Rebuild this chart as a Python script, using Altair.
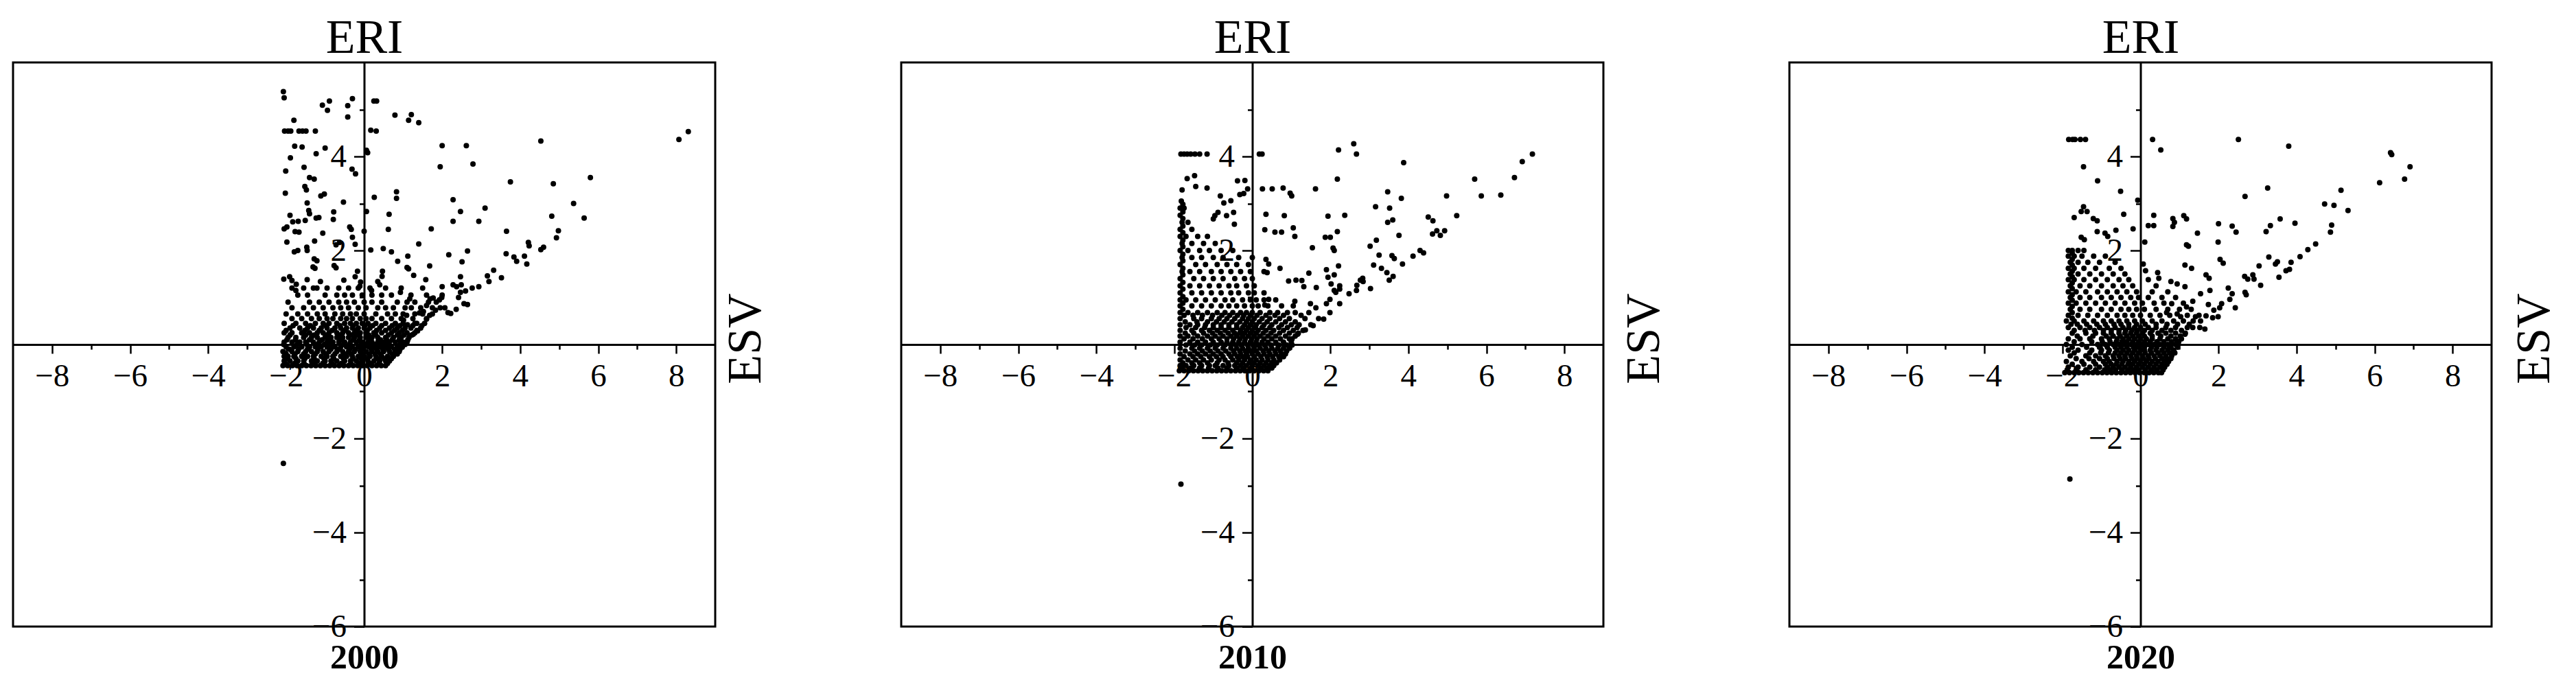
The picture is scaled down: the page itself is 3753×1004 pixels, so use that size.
import altair as alt
import pandas as pd

YEARS = ["2000", "2010", "2020"]
X_MAJOR = [-8, -6, -4, -2, 0, 2, 4, 6, 8]
X_MINOR = [-7, -5, -3, -1, 1, 3, 5, 7]
Y_MAJOR = [-6, -4, -2, 2, 4]
Y_MINOR = [-5, -3, -1, 1, 3, 5]
X_DOMAIN = [-9, 9]
Y_DOMAIN = [-6, 6]

# ---- 2000: scattered points (ERI, ESV)
S2000 = [
    (-2.07, 5.38), (-2.05, 5.25), (-1.07, 5.09), (-0.89, 5.18), (-0.94, 4.98), (-0.42, 5.08), (-0.30, 5.23), (-0.42, 4.84),
    (0.25, 5.18), (0.32, 5.18), (0.79, 4.88), (1.14, 4.77), (1.21, 4.89), (1.40, 4.72), (-1.80, 4.77),
    (-2.04, 4.54), (-1.95, 4.54), (-1.88, 4.54), (-1.67, 4.54), (-1.58, 4.54), (-1.49, 4.54), (-1.25, 4.54),
    (0.17, 4.56), (0.31, 4.54), (-1.78, 4.22), (-1.59, 4.20), (-1.23, 4.06), (-1.00, 4.18), (0.06, 4.13), (0.09, 4.08),
    (-1.89, 3.97), (-1.54, 3.77), (-2.01, 3.69), (-0.31, 3.73), (-0.22, 3.63), (-1.40, 3.55), (-1.28, 3.52),
    (2.00, 4.23), (2.62, 4.23), (4.53, 4.33), (8.07, 4.36), (8.31, 4.53), (1.95, 3.78), (2.79, 3.84), (3.75, 3.46),
    (4.85, 3.42), (5.80, 3.55),
    (-2.02, 3.22), (-1.52, 3.36), (-1.48, 3.29), (-1.46, 3.01), (-1.11, 3.16), (-1.02, 3.20), (0.26, 3.13), (0.83, 3.25),
    (0.83, 3.11), (2.28, 3.08),
    (-0.53, 3.03), (-0.78, 2.82), (-0.79, 2.66), (-1.42, 2.85), (-1.40, 2.78), (2.47, 2.83), (3.10, 2.90), (5.37, 3.00),
    (5.64, 2.69), (4.81, 2.73),
    (-1.90, 2.75), (-1.69, 2.62), (-1.83, 2.61), (-1.51, 2.64), (-1.23, 2.69), (-1.16, 2.70), (0.64, 2.77), (0.06, 2.83),
    (2.28, 2.62), (2.94, 2.62),
    (-2.05, 2.46), (-1.98, 2.50), (-1.77, 2.40), (-1.67, 2.39), (-1.06, 2.37), (-0.37, 2.50), (-0.33, 2.45), (0.00, 2.41),
    (0.62, 2.45), (1.72, 2.46), (3.65, 2.41), (4.98, 2.42), (4.93, 2.27),
    (-1.98, 2.18), (-1.27, 2.20), (-0.30, 2.28), (-0.23, 2.13), (-1.70, 2.00), (-1.79, 1.97), (-1.47, 2.07), (-1.46, 2.00),
    (-0.72, 2.12), (-0.63, 2.17),
    (0.17, 2.01), (0.49, 2.04), (0.70, 1.97), (1.40, 2.14), (2.17, 1.91), (2.65, 1.99), (3.64, 1.93), (3.84, 1.86),
    (3.91, 1.77), (4.11, 1.88), (4.21, 2.17), (4.23, 2.10), (4.17, 1.71), (4.53, 2.02), (4.60, 2.07),
    (1.12, 1.88), (0.86, 1.77), (2.51, 1.76), (-1.28, 1.82), (-1.21, 1.78), (-1.31, 1.65), (-1.26, 1.62), (-0.77, 1.68),
    (-0.72, 1.63), (1.10, 1.64), (1.14, 1.61), (1.68, 1.67),
    (3.32, 1.58), (3.52, 1.42), (3.16, 1.46), (3.20, 1.34), (2.94, 1.23), (2.77, 1.20), (2.47, 1.44), (2.49, 1.27),
    (2.28, 1.27), (2.37, 1.23), (2.60, 1.14), (2.65, 0.85), (2.56, 0.87), (2.42, 1.00), (2.47, 1.11), (2.00, 1.23),
    (1.27, 1.47), (1.58, 1.38), (0.93, 1.11),
    (-2.06, 1.39), (-1.91, 1.44), (-1.85, 1.36), (-1.75, 1.15), (-1.74, 1.28), (-1.46, 1.38), (-1.21, 1.20), (-1.12, 1.34),
    (-0.17, 1.56), (-0.23, 1.44), (-0.11, 1.24), (-0.09, 1.33), (-0.52, 1.37), (0.47, 1.56), (0.46, 1.45), (0.35, 1.34),
    (0.40, 1.27), (0.19, 1.15),
    (1.93, 0.95), (1.99, 1.00), (2.07, 0.78), (2.36, 0.75), (2.15, 0.68), (2.22, 0.66), (1.69, 0.97), (1.77, 0.99),
    (1.60, 0.83), (1.83, 0.73), (1.52, 0.70), (1.42, 0.67), (1.68, 0.62), (1.60, 0.54), (1.17, 0.97), (1.21, 0.78),
    (1.30, 0.45), (1.26, 0.22), (1.37, 0.29), (1.09, 0.62), (1.01, 0.52), (1.11, 0.42),
    (-2.07, -2.53),
]
# ---- 2000: dense cluster, ESV level -> ERI values
R2000 = {
    -0.45: [-2.08, -1.96, -1.84, -1.72, -1.60, -1.48, -1.36, -1.24, -1.12, -1.00, -0.88, -0.76, -0.64, -0.52, -0.40,
            -0.28, -0.16, -0.04, 0.08, 0.20, 0.32, 0.44, 0.55],
    -0.40: [-2.02, -1.78, -1.54, -1.30, -1.06, -0.82, -0.58, -0.34, -0.10, 0.14, 0.38, 0.60],
    -0.35: [-2.05, -1.90, -1.70, -1.55, -1.35, -1.20, -1.00, -0.85, -0.70, -0.50, -0.35, -0.20, -0.05, 0.10, 0.25,
            0.40, 0.55, 0.65],
    -0.30: [-1.98, -1.75, -1.52, -1.28, -1.03, -0.78, -0.53, -0.28, -0.08, 0.08, 0.34, 0.52, 0.70],
    -0.25: [-2.05, -1.95, -1.80, -1.60, -1.45, -1.30, -1.10, -0.95, -0.80, -0.60, -0.45, -0.30, -0.15, 0.00, 0.15,
            0.30, 0.45, 0.60, 0.75],
    -0.20: [-2.00, -1.77, -1.55, -1.25, -0.98, -0.75, -0.50, -0.33, -0.05, 0.12, 0.28, 0.42, 0.72, 0.85],
    -0.15: [-2.08, -1.85, -1.70, -1.50, -1.35, -1.20, -1.05, -0.90, -0.70, -0.55, -0.40, -0.25, -0.10, 0.05, 0.20,
            0.35, 0.50, 0.65, 0.80, 0.90],
    -0.10: [-1.92, -1.68, -1.45, -1.18, -0.85, -0.65, -0.37, -0.22, -0.05, 0.18, 0.32, 0.48, 0.62, 0.78, 0.92],
    -0.05: [-2.00, -1.80, -1.60, -1.40, -1.25, -1.10, -0.95, -0.75, -0.60, -0.45, -0.30, -0.15, 0.00, 0.12, 0.25,
            0.40, 0.55, 0.70, 0.85, 0.98],
    0.00: [-2.06, -1.72, -1.47, -1.20, -1.02, -0.87, -0.53, -0.38, -0.08, 0.06, 0.30, 0.45, 0.60, 0.92, 1.05],
    0.05: [-2.05, -1.85, -1.65, -1.50, -1.30, -1.15, -0.95, -0.80, -0.65, -0.50, -0.35, -0.20, -0.05, 0.10, 0.20,
           0.35, 0.50, 0.65, 0.80, 1.00, 1.10],
    0.10: [-1.98, -1.76, -1.40, -1.08, -0.90, -0.60, -0.28, -0.12, 0.15, 0.42, 0.58, 0.72, 0.90, 1.12],
    0.15: [-1.95, -1.75, -1.55, -1.35, -1.20, -1.00, -0.85, -0.70, -0.55, -0.40, -0.25, -0.10, 0.05, 0.20, 0.35,
           0.55, 0.75, 0.95, 1.15],
    0.20: [-1.90, -1.50, -1.28, -0.95, -0.62, -0.35, -0.18, 0.12, 0.30, 0.62, 0.85, 1.02, 1.22],
    0.25: [-2.05, -1.85, -1.60, -1.40, -1.20, -1.05, -0.90, -0.70, -0.55, -0.40, -0.25, -0.10, 0.05, 0.25, 0.45,
           0.70, 0.90, 1.10, 1.30],
    0.30: [-2.00, -1.52, -1.15, -0.82, -0.50, -0.20, 0.08, 0.32, 0.55, 0.78, 0.98, 1.35],
    0.35: [-1.90, -1.65, -1.45, -1.30, -1.10, -0.95, -0.75, -0.60, -0.45, -0.30, -0.15, 0.00, 0.15, 0.40, 0.65,
           0.85, 1.05, 1.20, 1.45],
    0.40: [-1.82, -1.38, -0.98, -0.62, -0.28, 0.02, 0.22, 0.45, 0.72, 0.92, 1.25, 1.48],
    0.45: [-2.05, -1.75, -1.50, -1.25, -1.05, -0.90, -0.70, -0.50, -0.35, -0.20, -0.05, 0.10, 0.30, 0.55, 0.80,
           1.00, 1.35, 1.55],
    0.55: [-1.85, -1.60, -1.35, -1.15, -0.95, -0.80, -0.60, -0.45, -0.30, -0.10, 0.05, 0.20, 0.45, 0.70, 0.95,
           1.25, 1.60],
    0.65: [-2.00, -1.70, -1.45, -1.20, -1.00, -0.75, -0.55, -0.35, -0.20, 0.00, 0.30, 0.60, 0.80, 1.00, 1.30,
           1.50, 1.75],
    0.78: [-1.85, -1.55, -1.30, -1.05, -0.80, -0.60, -0.40, -0.15, 0.05, 0.35, 0.55, 0.75, 1.05, 1.45, 1.75, 1.95],
    0.90: [-1.95, -1.40, -1.15, -0.90, -0.65, -0.45, -0.25, 0.00, 0.20, 0.45, 0.85, 1.10, 1.30, 1.65, 1.85],
    1.05: [-1.70, -1.45, -1.00, -0.70, -0.50, -0.30, -0.05, 0.20, 0.45, 0.70, 1.20, 1.60, 2.00],
    1.20: [-1.85, -1.55, -1.30, -0.95, -0.65, -0.40, -0.15, 0.15, 0.55, 0.95, 1.50],
}

# ---- 2010
S2010 = [
    (-1.83, 4.05), (-1.75, 4.05), (-1.67, 4.05), (-1.58, 4.05), (-1.47, 4.05), (-1.35, 4.05), (-1.16, 4.05),
    (0.18, 4.05), (0.25, 4.05),
    (2.60, 4.27), (2.21, 4.14), (2.67, 4.05), (3.88, 3.87), (7.18, 4.05), (6.92, 3.89), (6.72, 3.55), (5.70, 3.52),
    (2.18, 3.52),
    (5.87, 3.16), (6.37, 3.18), (4.98, 3.16), (3.47, 3.25), (3.82, 3.11), (3.16, 2.93), (3.52, 2.90), (2.37, 2.75),
    (1.94, 2.73),
    (4.51, 2.71), (4.63, 2.63), (5.24, 2.74), (3.47, 2.60), (3.60, 2.65), (2.18, 2.40), (1.87, 2.28), (2.00, 2.28),
    (3.76, 2.32),
    (4.62, 2.35), (4.73, 2.42), (4.93, 2.42), (4.82, 2.32), (3.02, 2.09), (3.18, 2.22), (4.12, 1.88), (4.30, 2.00),
    (4.39, 1.95),
    (2.07, 2.05), (2.10, 2.00), (1.54, 2.06), (3.25, 1.90), (3.58, 1.89), (3.64, 1.83), (3.85, 1.71), (3.11, 1.69),
    (3.31, 1.62), (3.45, 1.53), (3.61, 1.45), (3.51, 1.37),
    (3.03, 1.19), (2.77, 1.37), (2.68, 1.26), (2.83, 1.41), (2.21, 1.67), (1.90, 1.59), (1.94, 1.43), (2.10, 1.48),
    (1.45, 1.52), (1.64, 1.21), (1.32, 1.23), (1.12, 1.37), (0.93, 1.35),
    (2.02, 1.29), (2.24, 1.25), (2.10, 1.15),
    (0.51, 3.31), (0.79, 3.33), (0.26, 3.31), (-0.12, 3.31), (-0.32, 3.19), (-0.19, 3.49), (-0.73, 3.01), (-0.82, 3.16),
    (-1.16, 3.33), (-1.45, 3.36), (-1.67, 3.53), (-1.48, 3.59), (-1.80, 3.29), (-0.38, 3.48), (-0.55, 3.06),
    (-0.22, 3.21),
    (0.97, 3.22), (1.01, 3.16), (1.62, 3.31), (0.35, 2.77), (0.82, 2.74), (0.58, 2.39), (0.75, 2.39), (1.05, 2.48),
    (1.09, 2.30), (0.32, 2.44),
    (-0.48, 2.81), (-0.66, 2.74), (-0.46, 2.56), (-0.96, 2.74), (-1.00, 2.67), (-0.88, 2.81),
    (0.35, 1.81), (0.42, 1.71), (0.38, 1.53), (0.71, 1.62), (0.32, 0.84), (0.42, 0.96), (1.27, 1.36), (1.09, 0.92),
    (1.49, 0.87), (1.63, 0.78), (1.90, 0.87), (1.99, 0.96), (2.14, 1.11), (2.24, 1.18),
    (1.02, 0.12), (1.16, 0.22), (1.36, 0.31), (1.56, 0.40), (1.83, 0.54), (1.99, 0.68), (2.24, 0.87), (2.48, 1.08),
    (2.67, 1.15), (2.84, 1.34),
    (-1.78, 0.75), (-1.78, 0.88), (-1.78, 1.02), (-1.78, 1.18), (-1.78, 1.32), (-1.78, 1.48), (-1.78, 1.62),
    (-1.78, 1.78), (-1.78, 1.92), (-1.78, 2.08), (-1.78, 2.22), (-1.78, 2.38), (-1.78, 2.52), (-1.78, 2.68),
    (-1.78, 2.82), (-1.78, 2.98),
    (-1.83, -2.97),
]
R2010 = {
    -0.56: [-1.87, -1.75, -1.63, -1.51, -1.39, -1.27, -1.15, -1.03, -0.91, -0.79, -0.67, -0.55, -0.43, -0.31, -0.19,
            -0.07, 0.05, 0.17, 0.29, 0.40],
    -0.50: [-1.80, -1.58, -1.35, -1.12, -0.88, -0.65, -0.40, -0.22, -0.02, 0.22, 0.38, 0.50],
    -0.45: [-1.85, -1.70, -1.50, -1.30, -1.10, -0.95, -0.75, -0.60, -0.45, -0.30, -0.15, 0.00, 0.15, 0.30, 0.45, 0.55],
    -0.39: [-1.78, -1.55, -1.35, -1.15, -0.90, -0.62, -0.40, -0.25, -0.08, 0.05, 0.20, 0.35, 0.50, 0.62],
    -0.33: [-1.85, -1.65, -1.45, -1.25, -1.05, -0.85, -0.70, -0.50, -0.35, -0.20, -0.05, 0.10, 0.25, 0.40, 0.55, 0.70],
    -0.26: [-1.75, -1.52, -1.32, -1.10, -0.92, -0.75, -0.55, -0.38, -0.25, -0.12, 0.05, 0.22, 0.38, 0.52, 0.68, 0.80],
    -0.20: [-1.85, -1.60, -1.40, -1.20, -1.00, -0.80, -0.60, -0.45, -0.30, -0.15, 0.00, 0.15, 0.30, 0.45, 0.60,
            0.75, 0.85],
    -0.14: [-1.72, -1.48, -1.28, -1.08, -0.88, -0.68, -0.48, -0.32, -0.18, -0.05, 0.10, 0.28, 0.42, 0.58, 0.72, 0.88],
    -0.08: [-1.85, -1.55, -1.35, -1.15, -0.95, -0.75, -0.55, -0.40, -0.25, -0.10, 0.05, 0.20, 0.35, 0.50, 0.65,
            0.80, 0.95],
    -0.01: [-1.70, -1.48, -1.30, -1.08, -0.90, -0.70, -0.55, -0.42, -0.28, -0.12, 0.02, 0.15, 0.32, 0.48, 0.68,
            0.88, 1.02],
    0.05: [-1.85, -1.60, -1.40, -1.20, -1.00, -0.80, -0.65, -0.50, -0.35, -0.20, -0.05, 0.10, 0.25, 0.40, 0.60,
           0.80, 1.00],
    0.12: [-1.75, -1.52, -1.28, -1.05, -0.85, -0.65, -0.48, -0.32, -0.18, -0.02, 0.12, 0.30, 0.50, 0.72, 0.95],
    0.18: [-1.85, -1.65, -1.40, -1.15, -0.95, -0.75, -0.55, -0.40, -0.25, -0.10, 0.05, 0.20, 0.40, 0.60, 0.85, 1.10],
    0.24: [-1.72, -1.50, -1.25, -1.02, -0.82, -0.62, -0.45, -0.32, -0.20, -0.05, 0.10, 0.28, 0.48, 0.70, 0.95, 1.18],
    0.30: [-1.85, -1.55, -1.30, -1.10, -0.90, -0.70, -0.50, -0.30, -0.15, 0.00, 0.15, 0.35, 0.55, 0.80, 1.05, 1.30],
    0.36: [-1.70, -1.45, -1.22, -1.00, -0.80, -0.60, -0.40, -0.25, -0.10, 0.08, 0.25, 0.45, 0.68, 0.90, 1.15],
    0.42: [-1.85, -1.60, -1.40, -1.20, -1.00, -0.80, -0.60, -0.40, -0.20, -0.05, 0.10, 0.30, 0.50, 0.75, 1.00,
           1.20, 1.50],
    0.48: [-1.72, -1.42, -1.15, -0.92, -0.72, -0.52, -0.32, -0.15, 0.00, 0.18, 0.38, 0.60, 0.85, 1.10],
    0.55: [-1.85, -1.50, -1.30, -1.05, -0.85, -0.65, -0.45, -0.25, -0.10, 0.05, 0.25, 0.45, 0.70, 0.95, 1.35, 1.70],
    0.62: [-1.75, -1.52, -1.28, -1.02, -0.78, -0.58, -0.38, -0.22, -0.05, 0.12, 0.35, 0.58, 0.80, 1.25],
    0.68: [-1.85, -1.65, -1.40, -1.15, -0.90, -0.70, -0.50, -0.30, -0.15, 0.00, 0.20, 0.45, 0.65, 0.90, 1.10, 1.45],
    0.82: [-1.85, -1.55, -1.30, -1.05, -0.80, -0.60, -0.40, -0.20, 0.00, 0.15, 0.40, 0.75, 1.05],
    0.95: [-1.85, -1.70, -1.45, -1.20, -0.95, -0.70, -0.50, -0.25, -0.05, 0.10, 0.30, 0.60],
    1.10: [-1.85, -1.55, -1.30, -1.05, -0.80, -0.55, -0.35, -0.10, 0.05, 0.30],
    1.25: [-1.85, -1.60, -1.35, -1.10, -0.85, -0.60, -0.40, -0.15, 0.05],
    1.40: [-1.85, -1.50, -1.25, -1.00, -0.75, -0.45, -0.20, 0.00],
    1.55: [-1.80, -1.60, -1.35, -1.05, -0.80, -0.55, -0.30, -0.05, 0.30],
    1.70: [-1.85, -1.45, -1.20, -0.90, -0.65, -0.40, -0.10],
    1.85: [-1.80, -1.55, -1.30, -1.00, -0.75, -0.35, 0.00],
    2.00: [-1.85, -1.65, -1.35, -1.10, -0.80, -0.50],
    2.15: [-1.80, -1.55, -1.25, -0.95],
    2.30: [-1.85, -1.70, -1.40, -1.15],
    2.45: [-1.85, -1.55],
    2.60: [-1.80, -1.65],
    2.75: [-1.85],
    2.90: [-1.85, -1.75],
    3.05: [-1.82],
}

# ---- 2020
S2020 = [
    (-1.84, 4.36), (-1.74, 4.36), (-1.68, 4.36), (-1.54, 4.36), (-1.41, 4.36), (0.31, 4.36), (0.52, 4.14), (2.51, 4.36),
    (3.80, 4.22),
    (6.41, 4.08), (6.44, 4.04), (6.91, 3.78), (6.77, 3.52), (6.13, 3.44), (-1.46, 3.78), (-1.10, 3.48), (-0.51, 3.26),
    (-0.07, 3.07),
    (3.26, 3.33), (2.68, 3.15), (5.14, 3.28), (4.72, 2.99), (4.96, 2.96), (5.32, 2.85),
    (-1.46, 2.93), (-1.37, 2.83), (-1.52, 2.83), (-1.70, 2.70), (-1.21, 2.68), (-1.11, 2.63), (-0.43, 2.77), (0.34, 2.75),
    (0.83, 2.68), (0.87, 2.60), (0.83, 2.51), (1.11, 2.74), (1.18, 2.67), (2.00, 2.57), (2.35, 2.52), (2.45, 2.39),
    (3.58, 2.67), (3.96, 2.58),
    (3.33, 2.53), (3.22, 2.40), (4.90, 2.54), (4.87, 2.39), (-1.11, 2.40), (-0.84, 2.30), (-0.63, 2.43), (-0.19, 2.46),
    (0.20, 2.53), (0.34, 2.53),
    (0.11, 2.18), (1.46, 2.37), (1.99, 2.18), (1.18, 2.12), (1.23, 2.09), (4.49, 2.14), (4.29, 2.02), (4.09, 1.87),
    (3.86, 1.75), (3.73, 1.57), (3.82, 1.60),
    (3.51, 1.76), (3.46, 1.71), (3.29, 1.86), (3.04, 1.67), (3.55, 1.43), (2.88, 1.48), (2.91, 1.39), (3.08, 1.26),
    (2.67, 1.45), (2.75, 1.39),
    (2.04, 1.81), (2.12, 1.73), (1.68, 1.48), (1.76, 1.41), (1.14, 1.69), (1.31, 1.62), (0.78, 1.34), (0.94, 1.29),
    (1.14, 1.23), (0.44, 1.53), (0.47, 1.41),
    (0.07, 1.71), (0.13, 1.57), (2.25, 1.20), (2.35, 1.08), (2.29, 0.96), (2.68, 1.11), (2.71, 1.06), (2.43, 0.78),
    (2.03, 0.78), (1.85, 0.57), (1.99, 0.59),
    (1.74, 0.85), (1.54, 1.08), (1.78, 1.15), (1.41, 0.59), (1.52, 0.36), (1.65, 0.33), (0.94, 0.65), (1.03, 0.59),
    (1.18, 0.80), (1.34, 0.92), (0.80, 0.87), (0.67, 0.68),
    (0.74, -0.07), (0.94, 0.07), (1.14, 0.22), (1.34, 0.36), (1.54, 0.50), (1.68, 0.61), (1.88, 0.73), (2.08, 0.87),
    (-1.52, 2.28), (-1.44, 2.23), (-0.91, 2.37),
    (-1.75, 0.56), (-1.75, 0.68), (-1.75, 0.81), (-1.75, 0.94), (-1.75, 1.06), (-1.75, 1.19), (-1.75, 1.31),
    (-1.75, 1.44), (-1.75, 1.56), (-1.75, 1.69), (-1.75, 1.81), (-1.75, 1.94),
    (-1.81, -2.86),
]
R2020 = {
    -0.60: [-1.94, -1.82, -1.70, -1.58, -1.46, -1.34, -1.22, -1.10, -0.98, -0.86, -0.74, -0.62, -0.50, -0.38, -0.26,
            -0.14, -0.02, 0.10, 0.22, 0.34, 0.46, 0.54],
    -0.54: [-1.88, -1.65, -1.40, -1.15, -0.92, -0.78, -0.64, -0.48, -0.32, -0.18, -0.05, 0.12, 0.28, 0.42, 0.58],
    -0.48: [-1.85, -1.60, -1.30, -1.05, -0.85, -0.70, -0.55, -0.40, -0.25, -0.10, 0.05, 0.20, 0.35, 0.50, 0.62],
    -0.42: [-1.75, -1.45, -1.15, -0.90, -0.75, -0.62, -0.48, -0.32, -0.20, -0.05, 0.10, 0.25, 0.40, 0.55, 0.68],
    -0.36: [-1.90, -1.50, -1.20, -0.95, -0.80, -0.60, -0.45, -0.30, -0.15, 0.00, 0.15, 0.30, 0.45, 0.60, 0.72],
    -0.30: [-1.65, -1.32, -1.05, -0.85, -0.68, -0.52, -0.38, -0.22, -0.08, 0.08, 0.22, 0.38, 0.55, 0.68, 0.78],
    -0.24: [-1.80, -1.40, -1.15, -0.90, -0.70, -0.55, -0.40, -0.25, -0.10, 0.05, 0.20, 0.35, 0.50, 0.65, 0.80],
    -0.18: [-1.70, -1.30, -1.02, -0.82, -0.65, -0.50, -0.35, -0.20, -0.05, 0.12, 0.28, 0.45, 0.60, 0.75, 0.88],
    -0.12: [-1.85, -1.60, -1.25, -1.00, -0.80, -0.60, -0.45, -0.30, -0.15, 0.00, 0.10, 0.25, 0.40, 0.55, 0.70, 0.85],
    -0.06: [-1.75, -1.38, -1.05, -0.85, -0.65, -0.50, -0.35, -0.18, -0.05, 0.10, 0.28, 0.42, 0.60, 0.78, 0.95],
    0.00: [-1.90, -1.50, -1.10, -0.90, -0.70, -0.55, -0.40, -0.25, -0.10, 0.05, 0.20, 0.35, 0.50, 0.70, 0.90],
    0.06: [-1.70, -1.25, -0.98, -0.78, -0.62, -0.48, -0.35, -0.20, -0.05, 0.10, 0.25, 0.42, 0.60, 0.80, 0.98],
    0.12: [-1.85, -1.55, -1.30, -1.00, -0.80, -0.60, -0.45, -0.30, -0.15, 0.00, 0.15, 0.30, 0.50, 0.70, 0.90, 1.05],
    0.18: [-1.62, -1.22, -0.88, -0.70, -0.52, -0.35, -0.20, -0.05, 0.10, 0.30, 0.52, 0.78, 1.02],
    0.24: [-1.75, -1.40, -1.15, -0.95, -0.75, -0.55, -0.40, -0.25, -0.10, 0.05, 0.25, 0.45, 0.65, 0.90, 1.15],
    0.30: [-1.70, -1.42, -1.18, -0.95, -0.75, -0.55, -0.38, -0.22, -0.08, 0.10, 0.30, 0.55, 0.78, 1.05],
    0.36: [-1.85, -1.55, -1.30, -1.05, -0.85, -0.65, -0.45, -0.30, -0.15, 0.00, 0.20, 0.40, 0.65, 0.90, 1.20],
    0.43: [-1.78, -1.62, -1.38, -1.12, -0.90, -0.68, -0.50, -0.30, -0.10, 0.12, 0.40, 0.68, 0.95, 1.25],
    0.50: [-1.90, -1.70, -1.45, -1.20, -0.95, -0.75, -0.55, -0.35, -0.15, 0.05, 0.30, 0.55, 0.85, 1.10, 1.35],
    0.62: [-1.85, -1.60, -1.35, -1.10, -0.85, -0.60, -0.40, -0.20, 0.00, 0.25, 0.50, 0.75, 1.20, 1.50],
    0.75: [-1.80, -1.55, -1.30, -1.00, -0.75, -0.50, -0.30, -0.10, 0.10, 0.40, 0.70, 1.00, 1.30],
    0.88: [-1.85, -1.65, -1.40, -1.15, -0.90, -0.65, -0.40, -0.15, 0.05, 0.35, 0.60, 1.10],
    1.00: [-1.80, -1.55, -1.30, -1.00, -0.75, -0.50, -0.25, -0.05, 0.20, 0.55, 0.90],
    1.12: [-1.85, -1.65, -1.40, -1.10, -0.85, -0.60, -0.35, -0.10, 0.30, 0.70],
    1.25: [-1.80, -1.55, -1.30, -1.00, -0.70, -0.45, -0.20, 0.40],
    1.38: [-1.85, -1.70, -1.45, -1.15, -0.85, -0.55, -0.30, 0.20],
    1.50: [-1.80, -1.60, -1.30, -1.00, -0.70, -0.40],
    1.62: [-1.85, -1.70, -1.45, -1.15, -0.80, -0.50],
    1.75: [-1.80, -1.60, -1.35, -1.05, -0.65],
    1.88: [-1.85, -1.70, -1.50, -1.20, -0.90],
    2.00: [-1.85, -1.75, -1.60, -1.45],
}

SPARSE = [S2000, S2010, S2020]
ROWS = [R2000, R2010, R2020]
ESV_TITLE_X = [65, 80, 83]

W, H = 1023, 822
FONT = "Liberation Serif"


def panel(year, sparse, rows, esv_x):
    pts = list(sparse) + [(x, y) for y, xs in rows.items() for x in xs]
    df = pd.DataFrame(pts, columns=["x", "y"])
    dummy = pd.DataFrame({"x": [0.0], "y": [0.0]})
    xs = alt.Scale(domain=X_DOMAIN, nice=False, zero=False)
    ys = alt.Scale(domain=Y_DOMAIN, nice=False, zero=False)

    points = alt.Chart(df).mark_circle(size=64, color="black", opacity=1).encode(
        x=alt.X("x:Q", scale=xs, axis=alt.Axis(
            orient="bottom", offset=-H / 2, values=X_MAJOR, tickSize=13, tickWidth=2.5,
            domainWidth=3, domainColor="black", tickColor="black", grid=False,
            labelFont=FONT, labelFontSize=47, labelColor="black", labelPadding=10,
            labelFlush=False, labelOverlap=False, title=None)),
        y=alt.Y("y:Q", scale=ys, axis=alt.Axis(
            orient="left", offset=-W / 2, values=Y_MAJOR, tickSize=15, tickWidth=2.5,
            domainWidth=3, domainColor="black", tickColor="black", grid=False,
            labelFont=FONT, labelFontSize=47, labelColor="black", labelPadding=11,
            labelFlush=False, labelOverlap=False, title=None)),
    )
    minor = alt.Chart(dummy).mark_point(opacity=0).encode(
        x=alt.X("x:Q", scale=xs, axis=alt.Axis(
            orient="bottom", offset=-H / 2, values=X_MINOR, tickSize=7, tickWidth=2.5,
            tickColor="black", domain=False, labels=False, grid=False, title=None)),
        y=alt.Y("y:Q", scale=ys, axis=alt.Axis(
            orient="left", offset=-W / 2, values=Y_MINOR, tickSize=7, tickWidth=2.5,
            tickColor="black", domain=False, labels=False, grid=False, title=None)),
    )
    titles = alt.Chart(dummy).mark_point(opacity=0).encode(
        x=alt.X("x:Q", scale=xs, axis=alt.Axis(
            orient="top", domain=False, ticks=False, labels=False, grid=False,
            title="ERI", titleFont=FONT, titleFontSize=70, titleFontWeight="normal",
            titleColor="black", titleY=-15, titleBaseline="alphabetic")),
        y=alt.Y("y:Q", scale=ys, axis=alt.Axis(
            orient="right", domain=False, ticks=False, labels=False, grid=False,
            title="ESV", titleFont=FONT, titleFontSize=70, titleFontWeight="normal",
            titleColor="black", titleAngle=270, titleX=esv_x, titleY=402,
            titleBaseline="alphabetic", titleAlign="center")),
    )
    year_layer = alt.Chart(dummy).mark_point(opacity=0).encode(
        x=alt.X("x:Q", scale=xs, axis=alt.Axis(
            orient="bottom", domain=False, ticks=False, labels=False, grid=False,
            title=year, titleFont=FONT, titleFontSize=50, titleFontWeight="bold",
            titleColor="black", titleY=60, titleBaseline="alphabetic")),
        y=alt.Y("y:Q", scale=ys, axis=None),
    )
    return alt.layer(points, minor, titles, year_layer).resolve_axis(
        x="independent", y="independent").properties(width=W, height=H)


panels = [panel(YEARS[i], SPARSE[i], ROWS[i], ESV_TITLE_X[i]) for i in range(3)]

chart = alt.hconcat(*panels, spacing=271, bounds="flush").configure_view(
    stroke="black", strokeWidth=3
).properties(
    padding={"left": 9, "top": 10, "right": 5, "bottom": 5},
    background="white",
)

chart.save("out.html", embed_options={"renderer": "svg", "actions": False})
